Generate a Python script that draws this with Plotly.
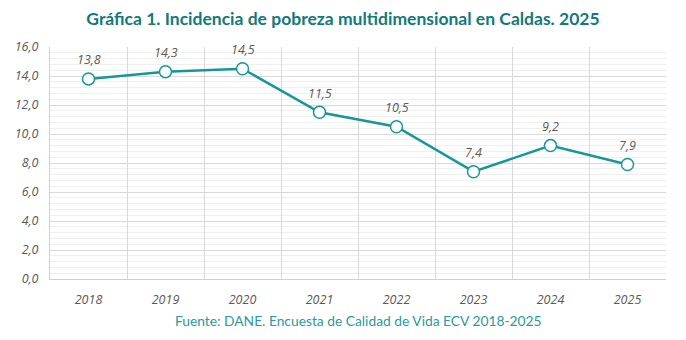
import plotly.graph_objects as go

years = ["2018", "2019", "2020", "2021", "2022", "2023", "2024", "2025"]
values = [13.8, 14.3, 14.5, 11.5, 10.5, 7.4, 9.2, 7.9]
labels = ["13,8", "14,3", "14,5", "11,5", "10,5", "7,4", "9,2", "7,9"]

teal = "#16979a"
grey = "#595959"
fig = go.Figure()
fig.add_trace(go.Scatter(
    x=years, y=values, mode="lines+markers",
    line=dict(color=teal, width=2.5),
    marker=dict(size=12, color="white", line=dict(color=teal, width=1.5)),
    cliponaxis=False, showlegend=False,
))
annotations = [dict(x=i, y=yv, text=t, showarrow=False, xref="x", yref="y",
                    yshift=19, font=dict(family="Open Sans", size=12.5, color=grey, style="italic"))
               for i, (yv, t) in enumerate(zip(values, labels))]
annotations.append(dict(text="Fuente: DANE. Encuesta de Calidad de Vida ECV 2018-2025",
                        x=0.5, xref="paper", y=-0.18, yref="paper", yanchor="middle",
                        showarrow=False,
                        font=dict(family="Lato", size=13.8, color="#2a9a9c")))
fig.update_layout(
    width=686, height=340,
    margin=dict(l=50, r=20, t=47, b=61),
    paper_bgcolor="white", plot_bgcolor="white",
    separators=",.",
    title=dict(text="<b>Gráfica 1. Incidencia de pobreza multidimensional en Caldas. 2025</b>",
               x=0.5, xanchor="center", y=0.945, yanchor="middle",
               font=dict(family="Lato", size=17.5, color="#117a7c")),
    annotations=annotations,
)
fig.update_xaxes(type="category", tickson="boundaries", showgrid=True, gridcolor="#d9d9d9",
                 gridwidth=1, showline=True, linecolor="#d0d0d0", ticks="",
                 tickfont=dict(family="Open Sans", size=12.5, color=grey, style="italic"),
                 range=[-0.5, 7.5], ticklabelstandoff=9)
fig.update_yaxes(range=[0, 16], dtick=2, tickformat=".1f", showgrid=True, gridcolor="#d9d9d9",
                 showline=True, linecolor="#d0d0d0", zeroline=False, ticks="",
                 tickfont=dict(family="Open Sans", size=12.5, color=grey, style="italic"),
                 minor=dict(dtick=0.4, showgrid=True, gridcolor="#efefef", gridwidth=1),
                 ticklabelstandoff=8)
fig.write_html("out.html")
